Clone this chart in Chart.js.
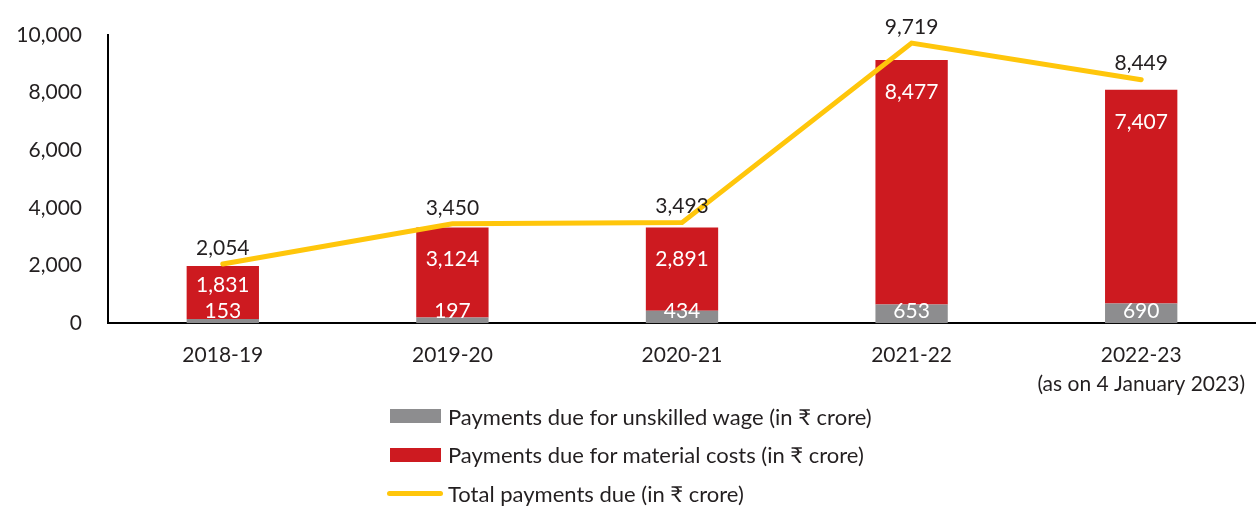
<!DOCTYPE html>
<html>
<head>
<meta charset="utf-8">
<script src="https://cdn.jsdelivr.net/npm/chart.js@4.4.0/dist/chart.umd.min.js"></script>
<style>
    html, body { margin: 0; padding: 0; background: #fff; }
    body { width: 1256px; height: 506px; position: relative; overflow: hidden; font-family: Lato, "Noto Sans", sans-serif; color: #231f20; }
    #chart-box { position: absolute; left: 0; top: 0; width: 1256px; height: 419px; }
    #legend { position: absolute; left: 387px; top: 397px; font-size: 22px; }
    .legend-row { height: 38.5px; display: flex; align-items: center; }
    .swatch { width: 51px; height: 14px; margin: 0 7px 0 3px; }
    .swatch.line { width: 56px; height: 5px; border-radius: 3px; margin: 0 5px 0 0; }
</style>
</head>
<body>
<div id="chart-box"><canvas id="payments-chart"></canvas></div>
<div id="legend"></div>
<script>
var categories = ['2018-19', '2019-20', '2020-21', '2021-22', ['2022-23', '(as on 4 January 2023)']];
var wage_values = [153, 197, 434, 653, 690];
var material_values = [1831, 3124, 2891, 8477, 7407];
var total_values = [2054, 3450, 3493, 9719, 8449];

var GREY = '#8d8d8f';
var RED = '#cd1a20';
var YELLOW = '#ffc60b';
var TEXT = '#231f20';
var FONT = 'Lato, "Noto Sans", sans-serif';

// draws the value labels on bars and line
var valueLabels = {
    id: 'valueLabels',
    afterDatasetsDraw: function (chart) {
        var ctx = chart.ctx;
        ctx.save();
        ctx.font = '21px ' + FONT;
        ctx.textAlign = 'center';
        ctx.textBaseline = 'middle';

        chart.getDatasetMeta(0).data.forEach(function (bar, i) {
            ctx.fillStyle = '#ffffff';
            ctx.fillText(wage_values[i].toLocaleString('en-US'), bar.x, bar.base - 12);
        });

        chart.getDatasetMeta(1).data.forEach(function (bar, i) {
            var h = bar.base - bar.y;
            var off = Math.min(32, h / 2 - 7);
            ctx.fillStyle = '#ffffff';
            ctx.fillText(material_values[i].toLocaleString('en-US'), bar.x, bar.y + off);
        });

        chart.getDatasetMeta(2).data.forEach(function (pt, i) {
            ctx.fillStyle = TEXT;
            ctx.fillText(total_values[i].toLocaleString('en-US'), pt.x, pt.y - 16);
        });
        ctx.restore();
    }
};

var PaymentsChart = new Chart(document.getElementById('payments-chart'), {
    data: {
        labels: categories,
        datasets: [{
            type: 'bar',
            label: 'Payments due for unskilled wage (in \u20b9 crore)',
            data: wage_values,
            backgroundColor: GREY,
            barPercentage: 0.315,
            categoryPercentage: 1,
            order: 2
        }, {
            type: 'bar',
            label: 'Payments due for material costs (in \u20b9 crore)',
            data: material_values,
            backgroundColor: RED,
            barPercentage: 0.315,
            categoryPercentage: 1,
            order: 2
        }, {
            type: 'line',
            label: 'Total payments due (in \u20b9 crore)',
            data: total_values,
            stack: 'total',
            borderColor: YELLOW,
            borderWidth: 5,
            borderCapStyle: 'round',
            pointRadius: 0,
            tension: 0,
            order: 1
        }]
    },
    plugins: [valueLabels],
    options: {
        responsive: true,
        maintainAspectRatio: false,
        animation: false,
        layout: {
            padding: { top: 35, right: 0, bottom: 3, left: 0 }
        },
        plugins: {
            legend: { display: false },
            tooltip: { enabled: false }
        },
        scales: {
            x: {
                stacked: true,
                grid: { display: false, drawTicks: false },
                border: { color: '#000', width: 2 },
                afterFit: function (scale) { scale.paddingRight = 0; },
                ticks: {
                    color: TEXT,
                    padding: 18,
                    maxRotation: 0,
                    autoSkip: false,
                    font: { family: FONT, size: 21, lineHeight: 1.35 }
                }
            },
            y: {
                stacked: true,
                min: 0,
                max: 10000,
                grid: { display: false, drawTicks: false },
                border: { color: '#000', width: 2 },
                afterFit: function (scale) {
                    scale.width = 108;
                    scale.paddingTop = 0;
                },
                ticks: {
                    stepSize: 2000,
                    color: TEXT,
                    padding: 26,
                    font: { family: FONT, size: 21 },
                    callback: function (v) { return v.toLocaleString('en-US'); }
                }
            }
        }
    }
});

// legend stacked vertically below the chart
var legendEl = document.getElementById('legend');
PaymentsChart.data.datasets.forEach(function (ds) {
    var row = document.createElement('div');
    row.className = 'legend-row';
    var sw = document.createElement('span');
    sw.className = ds.type === 'line' ? 'swatch line' : 'swatch';
    sw.style.background = ds.type === 'line' ? ds.borderColor : ds.backgroundColor;
    var txt = document.createElement('span');
    txt.textContent = ds.label;
    row.appendChild(sw);
    row.appendChild(txt);
    legendEl.appendChild(row);
});
</script>
</body>
</html>
